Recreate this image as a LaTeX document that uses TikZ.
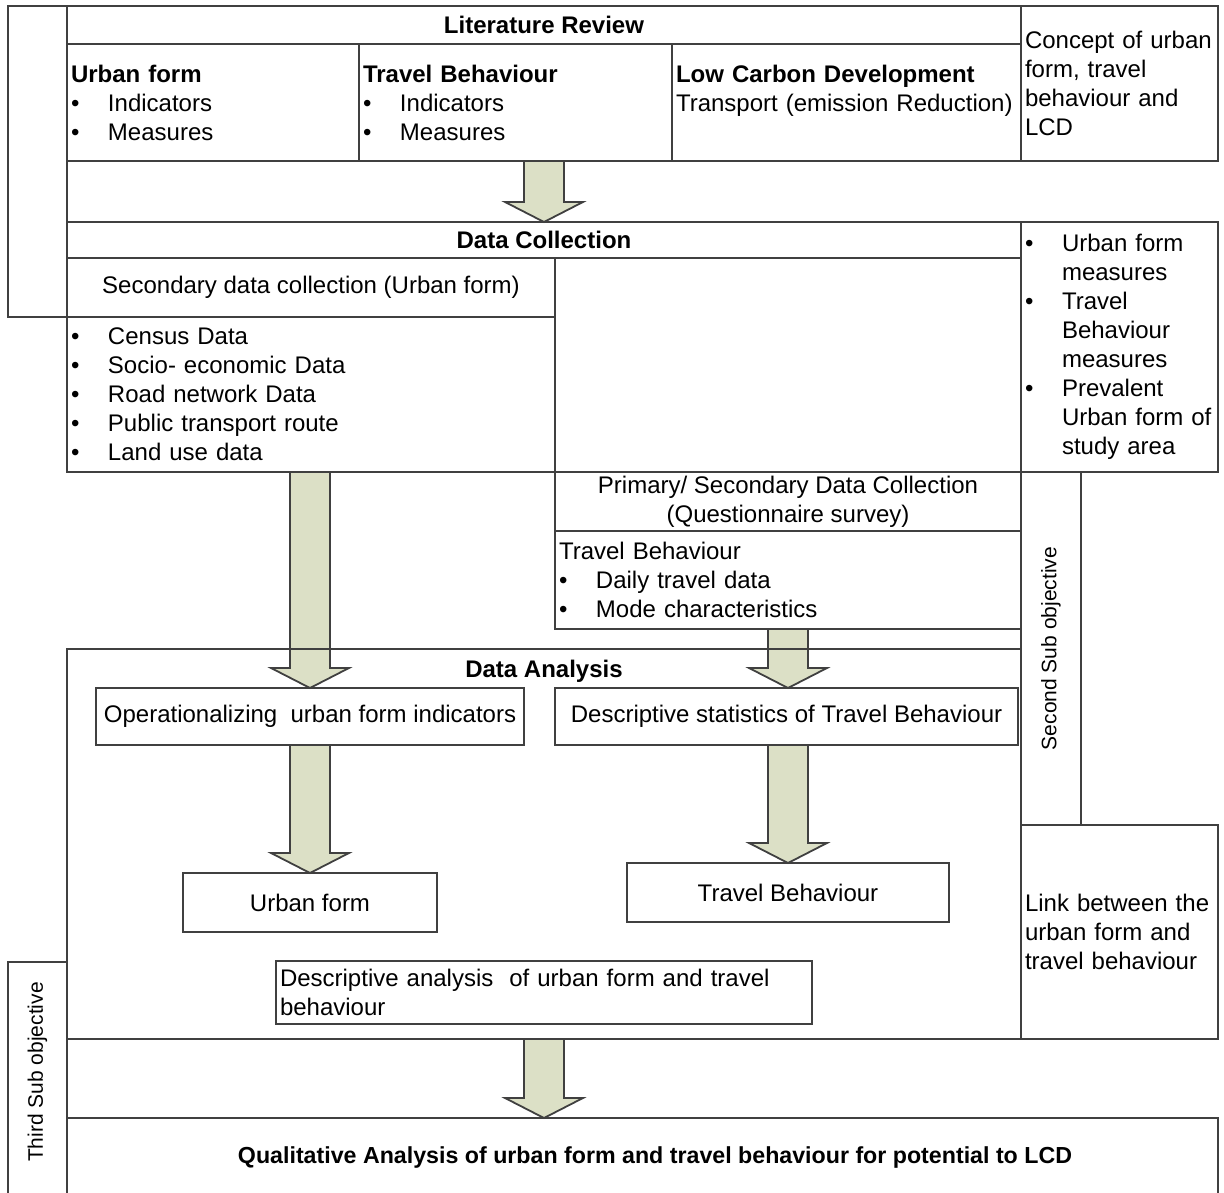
\documentclass[tikz,border=0pt]{standalone}
\usepackage{fontspec}
\setmainfont{Liberation Sans}
\usetikzlibrary{positioning,calc,backgrounds}

\definecolor{edgegray}{RGB}{64,64,64}
\definecolor{arrowfill}{RGB}{220,224,198}

\newcommand{\bitem}{\makebox[18.5pt][l]{\textbullet}}
\newcommand{\bcont}{\hspace*{18.5pt}}
% block arrow from #1 down to tip #2
\newcommand{\fatarrow}[2]{%
  \path (#1) coordinate (fa-top) (#2) coordinate (fa-tip);
  \draw[fat] ($(fa-top)+(-20,0)$) -- ($(fa-tip)+(-20,-20)$) -- ($(fa-tip)+(-39,-20)$) -- (fa-tip)
    -- ($(fa-tip)+(39,-20)$) -- ($(fa-tip)+(20,-20)$) -- ($(fa-top)+(20,0)$);
}

\begin{document}
\begin{tikzpicture}[x=0.5pt, y=-0.5pt,
    font=\fontsize{12}{14.5}\selectfont,
    cell/.style={draw=edgegray, line width=0.9pt, inner xsep=2pt, inner ysep=0pt, outer sep=0pt},
    lst/.style={cell, align=left},
    title/.style={font=\fontsize{12}{14.5}\selectfont\bfseries},
    side/.style={font=\fontsize{10.5}{12}\selectfont, rotate=90},
    fat/.style={draw=edgegray, line width=0.9pt, fill=arrowfill, line join=miter}
]
\useasboundingbox (0,0) rectangle (1224,1192);

% Literature review
\node[cell, minimum width=29.5pt, minimum height=155.5pt] (obj1) at (37.5,161.5) {};
\node[cell, title, minimum width=477pt, minimum height=19pt] (litT) at (544,25) {Literature Review};
\node[lst, text width=142pt, minimum height=58.5pt] (litA) at (213,102.5) {\textbf{Urban form}\\ \bitem Indicators\\ \bitem Measures};
\node[lst, text width=152.5pt, minimum height=58.5pt] (litB) at (515.5,102.5) {\textbf{Travel Behaviour}\\ \bitem Indicators\\ \bitem Measures};
\node[lst, text width=170.5pt, minimum height=58.5pt] (litC) at (846.5,102.5) {\textbf{Low Carbon Development}\\ Transport (emission Reduction)\\ \mbox{}};
\node[lst, text width=94.5pt, minimum height=77.5pt] (concept) at (1119.5,83.5) {Concept of urban\\ form, travel\\ behaviour and\\ LCD};

% Data collection
\node[cell, title, minimum width=477pt, minimum height=18pt] (dcT) at (544,240) {Data Collection};
\node[lst, text width=94.5pt, minimum height=125pt] (dcR) at (1119.5,347) {\bitem Urban form\\ \bcont measures\\ \bitem Travel\\ \bcont Behaviour\\ \bcont measures\\ \bitem Prevalent\\ \bcont Urban form of\\ \bcont study area};
\node[cell, minimum width=244pt, minimum height=29.5pt] (secT) at (311,287.5) {Secondary data collection (Urban form)};
\node[lst, text width=240pt, minimum height=77.5pt] (secL) at (311,394.5) {\bitem Census Data\\ \bitem Socio- economic Data\\ \bitem Road network Data\\ \bitem Public transport route\\ \bitem Land use data};
\node[cell, minimum width=233pt, minimum height=107pt] (blank) at (788,365) {};
\node[cell, align=center, minimum width=233pt, minimum height=29.5pt] (prim) at (788,501.5) {Primary/ Secondary Data Collection\\ (Questionnaire survey)};
\node[lst, text width=229pt, minimum height=49pt] (tbL) at (788,580) {Travel Behaviour\\ \bitem Daily travel data\\ \bitem Mode characteristics};

% Second sub objective
\node[cell, minimum width=30pt, minimum height=176.5pt] (obj2) at (1051,648.5) {};
\node[side] (obj2txt) at (obj2) {Second Sub objective};
\node[lst, text width=94.5pt, minimum height=107pt] (link) at (1119.5,932) {Link between the\\ urban form and\\ travel behaviour};

% Data analysis
\node[cell, minimum width=477pt, minimum height=195pt] (da) at (544,844) {};
\node[title] (daT) at (544,671) {Data Analysis};
\node[cell, minimum width=214pt, minimum height=28.5pt] (oper) at (310,716.5) {Operationalizing\ \ urban form indicators\ };
\node[cell, minimum width=231.5pt, minimum height=28.5pt] (dstat) at (786.5,716.5) {Descriptive statistics of Travel Behaviour};
\node[cell, minimum width=127pt, minimum height=29.5pt] (uf) at (310,902.5) {Urban form};
\node[cell, minimum width=161pt, minimum height=29.5pt] (tb) at (788,892.5) {Travel Behaviour};
\node[lst, text width=264pt, minimum height=31.5pt] (dana) at (544,992.5) {Descriptive analysis\ \ of urban form and travel\\ behaviour};

% Qualitative analysis
\node[cell, minimum width=575.5pt, minimum height=41pt] (qual) at (642.5,1159) {};
\node[font=\fontsize{11.6}{14}\selectfont\bfseries] (qualT) at (655,1157) {Qualitative Analysis of urban form and travel behaviour for potential to LCD};
\node[cell, minimum width=29.5pt, minimum height=119pt] (obj3) at (37.5,1081) {};
\node[side] (obj3txt) at (37.5,1072) {Third Sub objective};

% Arrows
\begin{scope}[on background layer]
\fatarrow{dcT.north |- litB.south}{dcT.north}
\fatarrow{oper.north |- secL.south}{oper.north}
\fatarrow{tbL.south}{tbL.south |- dstat.north}
\fatarrow{oper.south}{uf.north}
\fatarrow{tb.north |- dstat.south}{tb.north}
\fatarrow{da.south}{da.south |- qual.north}
\end{scope}

\end{tikzpicture}
\end{document}
